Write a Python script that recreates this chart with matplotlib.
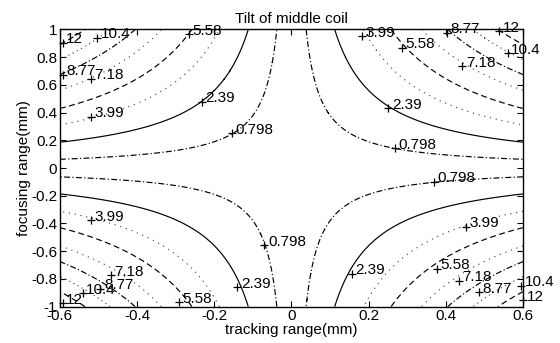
import numpy as np
import matplotlib
matplotlib.use("Agg")
import matplotlib.pyplot as plt

plt.rcParams['font.family'] = ['Liberation Sans', 'DejaVu Sans']
plt.rcParams['axes.unicode_minus'] = False

# contour levels shown on the plot
tilt_levels = [0.798, 2.39, 3.99, 5.58, 7.18, 8.77, 10.4, 12]
# |tracking * focusing| where each level line sits
level_products = [0.038, 0.112, 0.187, 0.258, 0.337, 0.405, 0.470, 0.535]
level_styles = [(0, (5, 2, 1, 2)), '-', (0, (1, 4)), (0, (5, 3)),
                (0, (1, 4)), (0, (5, 2, 1, 2)), (0, (1, 3)), (0, (5, 3))]
level_colors = ['black', 'black', '0.3', 'black', '0.3', 'black', '0.3', 'black']

# clabel "+" markers: tracking, focusing, text
label_x = [-0.593, -0.504, -0.266, -0.593, -0.52, -0.52, -0.232, -0.154,
           0.182, 0.286, 0.404, 0.539, 0.56, 0.443, 0.251, 0.269,
           0.369, 0.452, 0.156, 0.378, 0.434, 0.486, 0.595, 0.60,
           -0.519, -0.07, -0.467, -0.14, -0.495, -0.541, -0.593, -0.292]
label_y = [0.906, 0.942, 0.964, 0.674, 0.645, 0.37, 0.478, 0.253,
           0.951, 0.867, 0.976, 0.988, 0.83, 0.734, 0.433, 0.143,
           -0.099, -0.425, -0.763, -0.727, -0.812, -0.896, -0.85, -0.955,
           -0.377, -0.558, -0.775, -0.86, -0.87, -0.903, -0.975, -0.969]
label_text = ['12', '10.4', '5.58', '8.77', '7.18', '3.99', '2.39', '0.798',
              '3.99', '5.58', '8.77', '12', '10.4', '7.18', '2.39', '0.798',
              '0.798', '3.99', '2.39', '5.58', '7.18', '8.77', '10.4', '12',
              '3.99', '0.798', '7.18', '2.39', '8.77', '10.4', '12', '5.58']

x = np.linspace(-0.6, 0.6, 241)
y = np.linspace(-1, 1, 401)
X, Y = np.meshgrid(x, y)
P = np.abs(X * Y)

fig = plt.figure(figsize=(5.6, 3.43), dpi=100)
ax = fig.add_axes([0.107, 0.106, 0.827, 0.808])

ax.contour(X, Y, P, levels=level_products, colors=level_colors,
           linestyles=level_styles, linewidths=0.85)

for lx, ly, lt in zip(label_x, label_y, label_text):
    ax.plot(lx, ly, marker='+', color='black', ms=6, mew=0.9, clip_on=False)
    ax.annotate(lt, (lx, ly), xytext=(2.5, 2.5), textcoords='offset points',
                fontsize=11, ha='left', va='center', annotation_clip=False)

ax.set_xlim(-0.6, 0.6)
ax.set_ylim(-1, 1)
ax.set_xticks([-0.6, -0.4, -0.2, 0, 0.2, 0.4, 0.6])
ax.set_xticklabels(['-0.6', '-0.4', '-0.2', '0', '0.2', '0.4', '0.6'])
ax.set_yticks([-1, -0.8, -0.6, -0.4, -0.2, 0, 0.2, 0.4, 0.6, 0.8, 1])
ax.set_yticklabels(['-1', '-0.8', '-0.6', '-0.4', '-0.2', '0', '0.2', '0.4',
                    '0.6', '0.8', '1'])
ax.tick_params(direction='in', top=True, right=True, length=4, width=0.8,
               labelsize=11, pad=2)
for s in ax.spines.values():
    s.set_linewidth(1.0)

ax.set_title('Tilt of middle coil', fontsize=11, pad=5)
ax.set_xlabel('tracking range(mm)', fontsize=11, labelpad=0)
ax.set_ylabel('focusing range(mm)', fontsize=11, labelpad=0)

fig.savefig('out.png', dpi=100)
